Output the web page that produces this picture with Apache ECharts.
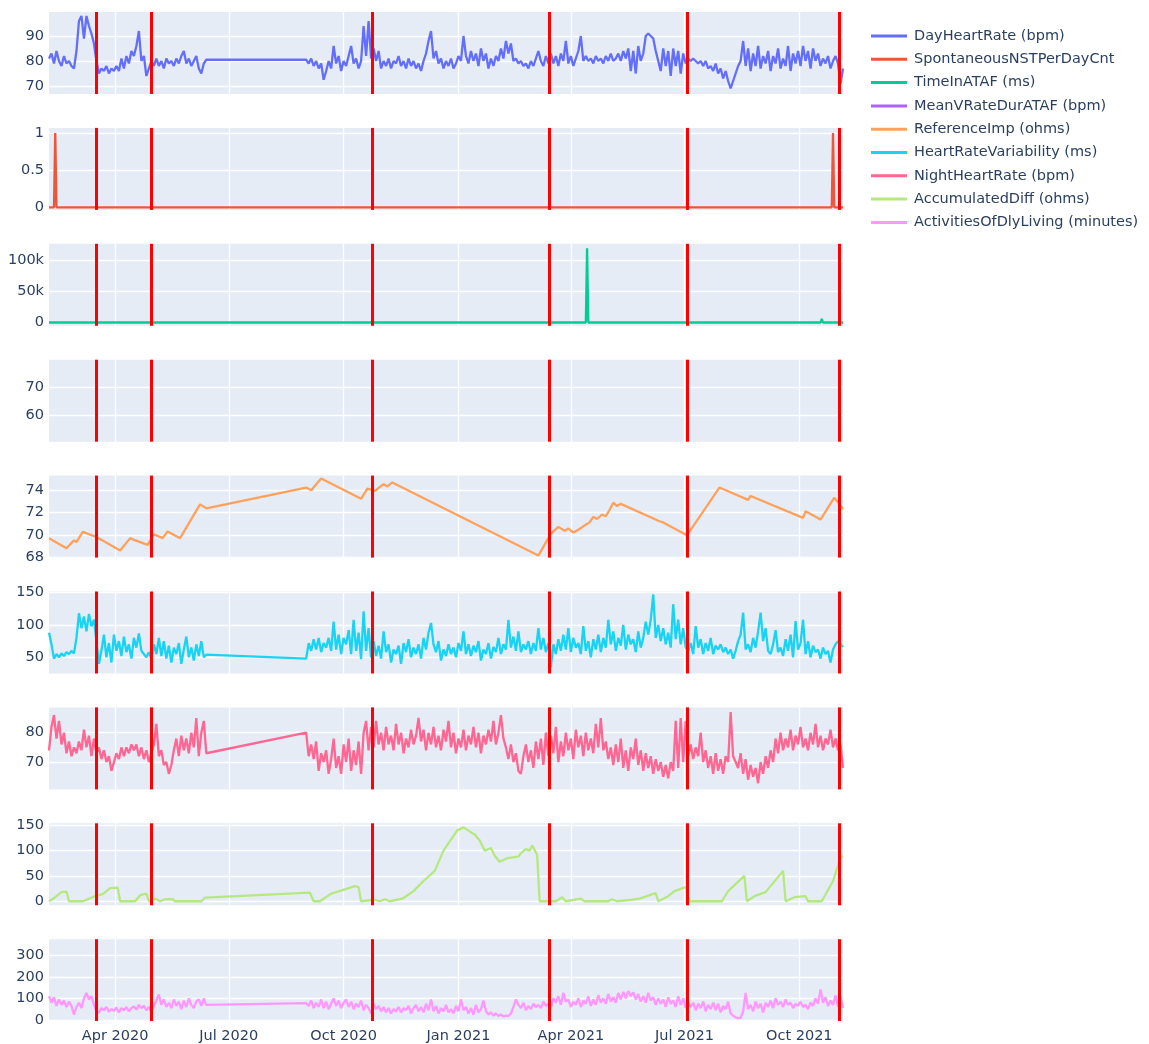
<!DOCTYPE html>
<html><head><meta charset="utf-8">
<script src="https://cdn.jsdelivr.net/npm/echarts@6/dist/echarts.min.js"></script>
<style>html,body{margin:0;padding:0;background:#fff}#c{width:1149px;height:1044px}</style>
</head><body><div id="c"></div>
<script>
const seriesNames = ['DayHeartRate (bpm)','SpontaneousNSTPerDayCnt','TimeInATAF (ms)','MeanVRateDurATAF (bpm)','ReferenceImp (ohms)','HeartRateVariability (ms)','NightHeartRate (bpm)','AccumulatedDiff (ohms)','ActivitiesOfDlyLiving (minutes)'];
const colors = ['#636EFA','#EF553B','#00CC96','#AB63FA','#FFA15A','#19D3F3','#FF6692','#B6E880','#FF97FF'];

const dailyDates = [
'2020-02-08','2020-02-10','2020-02-12','2020-02-14','2020-02-16','2020-02-18','2020-02-20','2020-02-22','2020-02-24','2020-02-26','2020-02-28',
'2020-03-01','2020-03-03','2020-03-05','2020-03-07','2020-03-09','2020-03-11','2020-03-13','2020-03-15','2020-03-17','2020-03-19','2020-03-21','2020-03-23','2020-03-25','2020-03-27','2020-03-29','2020-03-31',
'2020-04-02','2020-04-04','2020-04-06','2020-04-08','2020-04-10','2020-04-12','2020-04-14','2020-04-16','2020-04-18','2020-04-20','2020-04-22','2020-04-24','2020-04-26','2020-04-28','2020-04-30',
'2020-05-02','2020-05-04','2020-05-06','2020-05-08','2020-05-10','2020-05-12','2020-05-14','2020-05-16','2020-05-18','2020-05-20','2020-05-22','2020-05-24','2020-05-26','2020-05-28','2020-05-30',
'2020-06-01','2020-06-03','2020-06-05','2020-06-07','2020-06-09','2020-06-11','2020-06-13',
'2020-09-01','2020-09-03','2020-09-05','2020-09-07','2020-09-09','2020-09-11','2020-09-13','2020-09-15','2020-09-17','2020-09-19','2020-09-21','2020-09-23','2020-09-25','2020-09-27','2020-09-29',
'2020-10-01','2020-10-03','2020-10-05','2020-10-07','2020-10-09','2020-10-11','2020-10-13','2020-10-15','2020-10-17','2020-10-19','2020-10-21','2020-10-23','2020-10-25','2020-10-27','2020-10-29','2020-10-31',
'2020-11-02','2020-11-04','2020-11-06','2020-11-08','2020-11-10','2020-11-12','2020-11-14','2020-11-16','2020-11-18','2020-11-20','2020-11-22','2020-11-24','2020-11-26','2020-11-28','2020-11-30',
'2020-12-02','2020-12-04','2020-12-06','2020-12-08','2020-12-10','2020-12-12','2020-12-14','2020-12-16','2020-12-18','2020-12-20','2020-12-22','2020-12-24','2020-12-26','2020-12-28','2020-12-30',
'2021-01-01','2021-01-03','2021-01-05','2021-01-07','2021-01-09','2021-01-11','2021-01-13','2021-01-15','2021-01-17','2021-01-19','2021-01-21','2021-01-23','2021-01-25','2021-01-27','2021-01-29','2021-01-31',
'2021-02-02','2021-02-04','2021-02-06','2021-02-08','2021-02-10','2021-02-12','2021-02-14','2021-02-16','2021-02-18','2021-02-20','2021-02-22','2021-02-24','2021-02-26','2021-02-28',
'2021-03-02','2021-03-04','2021-03-06','2021-03-08','2021-03-10','2021-03-12','2021-03-14','2021-03-16','2021-03-18','2021-03-20','2021-03-22','2021-03-24','2021-03-26','2021-03-28','2021-03-30',
'2021-04-01','2021-04-03','2021-04-05','2021-04-07','2021-04-09','2021-04-11','2021-04-13','2021-04-15','2021-04-17','2021-04-19','2021-04-21','2021-04-23','2021-04-25','2021-04-27','2021-04-29',
'2021-05-01','2021-05-03','2021-05-05','2021-05-07','2021-05-09','2021-05-11','2021-05-13','2021-05-15','2021-05-17','2021-05-19','2021-05-21','2021-05-23','2021-05-25','2021-05-27','2021-05-29','2021-05-31',
'2021-06-02','2021-06-04','2021-06-06','2021-06-08','2021-06-10','2021-06-12','2021-06-14','2021-06-16','2021-06-18','2021-06-20','2021-06-22','2021-06-24','2021-06-26','2021-06-28','2021-06-30',
'2021-07-02','2021-07-04','2021-07-06','2021-07-08','2021-07-10','2021-07-12','2021-07-14','2021-07-16','2021-07-18','2021-07-20','2021-07-22','2021-07-24','2021-07-26','2021-07-28','2021-07-30',
'2021-08-01','2021-08-03','2021-08-05','2021-08-07','2021-08-09','2021-08-11','2021-08-13','2021-08-15','2021-08-17','2021-08-19','2021-08-21','2021-08-23','2021-08-25','2021-08-27','2021-08-29','2021-08-31',
'2021-09-02','2021-09-04','2021-09-06','2021-09-08','2021-09-10','2021-09-12','2021-09-14','2021-09-16','2021-09-18','2021-09-20','2021-09-22','2021-09-24','2021-09-26','2021-09-28','2021-09-30',
'2021-10-02','2021-10-04','2021-10-06','2021-10-08','2021-10-10','2021-10-12','2021-10-14','2021-10-16','2021-10-18','2021-10-20','2021-10-22','2021-10-24','2021-10-26','2021-10-28','2021-10-30',
'2021-11-01','2021-11-03','2021-11-05'];

const dayHeartRate = [81,83,79,84,80,78,82,79,80,78,77,84,96,98,89,98,94,91,87,80,75,77,76,78,75,77,76,78,76,81,77,82,79,84,82,86,92,80,82,74,77,80,78,81,78,80,77,81,79,80,78,81,79,82,84,79,81,78,80,82,77,75,79,80.5,
80.5,79,81,78,80,77,79,72.5,76,80,77,86,79,82,76,80,78,82,86,79,81,77,80,94,82,96,81,85,80,84,77,80,78,81,77,80,79,82,78,80,77,81,78,80,77,79,76,80,83,88,92,81,84,79,81,77,80,78,81,77,79,82,80,90,82,79,84,80,83,78,85,80,83,77,81,78,82,80,85,81,88,83,87,80,81,79,80,78,79,77,80,78,81,84,80,78,82,79,83,79,82,78,83,80,88,79,82,78,81,84,90,80,82,80,81,79,82,80,81,79,82,80,83,80,81,83,80,84,81,85,76,84,75,86,80,83,90,91,90,89,84,80,76,85,78,84,74,85,78,84,75,83,79,81,80,81,80,79,80,78,80,77,78,76,79,75,77,73,76,72,69,72,75,78,80,88,78,85,76,83,78,86,77,82,79,84,76,82,79,85,77,81,78,86,76,83,79,84,78,86,80,84,77,85,80,83,78,81,79,82,77,80,82,79,71,77];

const heartRateVariability = [88,70,48,55,50,56,52,58,55,60,56,80,118,95,113,90,117,98,108,75,40,60,85,50,72,42,85,60,75,52,82,58,70,48,80,65,87,60,55,50,58,48,70,55,80,52,75,48,68,42,65,55,72,40,62,82,50,65,45,70,52,75,50,54,
48,72,60,78,62,80,58,72,65,80,60,105,62,85,55,80,70,92,55,108,60,88,47,121,60,95,50,75,52,68,48,90,58,70,42,62,55,68,40,72,58,78,50,65,55,70,48,80,62,88,103,70,58,75,45,62,52,70,55,65,50,72,60,90,55,70,52,68,58,75,45,62,55,72,48,66,58,80,55,70,62,108,65,82,60,90,58,70,62,75,55,72,60,95,62,80,58,72,35,70,55,78,60,85,62,95,58,80,65,72,55,98,60,75,50,78,62,85,58,80,65,108,70,90,60,80,68,100,62,85,70,78,58,90,65,80,105,85,108,147,80,100,75,95,70,88,65,132,78,108,70,95,65,60,72,55,98,65,78,55,72,60,80,55,68,62,70,58,65,55,62,48,60,75,85,119,62,70,58,80,65,90,119,75,95,60,55,70,92,58,65,52,78,60,85,50,106,62,72,108,55,75,50,68,58,62,48,65,55,60,42,62,70,75,70,66];

const nightHeartRate = [74,82,86,78,84,76,80,73,77,72,75,73,77,74,81,75,79,72,78,73,75,71,74,70,72,67,70,73,71,75,72,75,73,76,74,76,72,75,71,74,70,73,76,83,72,74,69,70,66,69,74,78,72,79,74,78,73,80,75,85,72,80,84,73,
80,72,76,71,77,67,73,70,74,66,71,78,68,72,66,76,70,78,67,74,69,77,66,80,84,74,82,75,84,76,80,74,82,76,79,74,83,76,80,73,78,75,81,76,79,85,77,81,74,80,76,82,75,79,74,81,77,84,75,80,73,78,75,81,74,79,76,82,75,80,73,79,76,81,77,84,76,80,86,78,75,71,76,70,73,67,66,72,76,70,74,68,77,71,78,69,80,72,79,73,82,70,77,72,80,74,78,71,81,75,79,72,80,74,78,73,83,75,85,74,77,71,75,69,76,70,78,68,74,67,75,71,78,69,74,67,73,68,72,66,71,67,70,65,69,64.5,70,67,84,68,85,70,84,72,76,71,75,72,80,70,74,68,72,66,73,67,71,66,72,70,87,72,70,68,73,66,71,64,69,65,68,62.8,70,66,72,68,74,70,78,73,80,74,78,75,81,74,79,76,82,75,78,74,80,76,83,75,79,74,78,76,81,75,78,74,76,68];

const activitiesOfDlyLiving = [110,80,105,65,95,70,90,60,85,65,25,60,80,55,100,125,95,110,70,40,35,55,45,60,38,50,42,58,35,55,45,60,40,55,62,48,70,55,65,45,60,35,65,90,118,70,95,60,80,55,95,65,85,50,90,60,100,70,55,85,95,65,100,70,
78,65,90,55,80,60,95,55,85,50,75,100,65,90,55,80,95,60,85,50,75,60,90,45,70,55,30,75,50,65,40,60,35,55,30,50,40,60,35,55,45,65,30,55,70,40,60,35,75,45,95,40,65,30,55,40,70,35,50,30,65,40,95,45,60,30,55,25,70,35,50,90,40,25,35,20,30,18,25,16,20,18,30,60,95,70,55,80,45,65,50,75,60,70,55,85,65,75,55,100,80,110,70,126,85,95,60,85,70,100,60,90,75,110,65,95,70,115,80,100,75,120,85,105,80,125,95,130,100,134,110,128,95,120,85,110,80,126,90,105,70,100,75,95,60,105,75,90,60,110,70,100,55,85,60,80,45,75,55,85,40,70,50,80,45,75,35,65,50,85,30,20,12,8,10,40,126,50,70,40,85,55,75,35,80,60,90,55,100,70,85,60,95,70,80,55,75,65,85,60,70,50,80,65,100,75,142,80,105,65,90,70,115,60,110,55];

const nstDates = ['2020-02-08','2020-02-12','2020-02-13','2020-02-14','2021-10-27','2021-10-28','2021-10-29','2021-11-05'];
const nstValues = [0,0,1,0,0,1,0,0];

const atafDates = ['2020-02-08','2021-04-13','2021-04-14','2021-04-15','2021-10-18','2021-10-19','2021-10-20','2021-11-05'];
const atafValues = [0,0,119000,0,0,6000,0,0];

const meanVRateDates = [];
const meanVRateValues = [];

const refImpDates = ['2020-02-08','2020-02-22','2020-02-28','2020-03-01','2020-03-06','2020-03-17','2020-04-05','2020-04-13','2020-04-16','2020-04-27','2020-05-02','2020-05-09','2020-05-13','2020-05-23','2020-06-08','2020-06-13','2020-09-01','2020-09-05','2020-09-13','2020-10-15','2020-10-20','2020-10-26','2020-11-02','2020-11-05','2020-11-09','2021-03-06','2021-03-16','2021-03-22','2021-03-27','2021-03-30','2021-04-03','2021-04-07','2021-04-11','2021-04-16','2021-04-19','2021-04-22','2021-04-26','2021-04-29','2021-05-02','2021-05-05','2021-05-08','2021-05-11','2021-06-11','2021-06-14','2021-07-03','2021-07-29','2021-08-21','2021-08-23','2021-10-04','2021-10-06','2021-10-18','2021-10-29','2021-11-05'];
const refImpValues = [69.7,68.8,69.5,69.35,70.25,69.8,68.6,69.7,69.55,69.1,70.05,69.7,70.3,69.7,72.7,72.35,74.2,73.95,75.0,73.2,74.1,73.9,74.5,74.3,74.65,68.15,70.1,70.7,70.35,70.55,70.2,70.45,70.75,71.1,71.6,71.4,71.8,71.65,72.2,72.85,72.55,72.75,71.2,71.1,69.95,74.2,73.1,73.45,71.5,72.1,71.35,73.3,72.3];

const accDiffDates = ['2020-02-08','2020-02-13','2020-02-18','2020-02-22','2020-02-24','2020-03-06','2020-03-10','2020-03-17','2020-03-22','2020-03-28','2020-04-03','2020-04-05','2020-04-17','2020-04-21','2020-04-26','2020-04-28','2020-05-03','2020-05-07','2020-05-11','2020-05-17','2020-05-19','2020-06-09','2020-06-12','2020-09-04','2020-09-07','2020-09-12','2020-09-21','2020-10-04','2020-10-10','2020-10-13','2020-10-15','2020-10-26','2020-10-30','2020-11-03','2020-11-07','2020-11-17','2020-11-26','2020-12-04','2020-12-13','2020-12-20','2020-12-24','2020-12-31','2021-01-05','2021-01-10','2021-01-14','2021-01-18','2021-01-22','2021-01-27','2021-01-30','2021-02-03','2021-02-09','2021-02-18','2021-02-20','2021-02-24','2021-02-27','2021-03-01','2021-03-05','2021-03-07','2021-03-20','2021-03-25','2021-03-28','2021-04-09','2021-04-12','2021-05-01','2021-05-04','2021-05-08','2021-05-20','2021-05-26','2021-06-03','2021-06-08','2021-06-10','2021-06-18','2021-06-23','2021-07-02','2021-07-05','2021-07-31','2021-08-05','2021-08-18','2021-08-20','2021-08-26','2021-09-04','2021-09-18','2021-09-20','2021-09-27','2021-10-06','2021-10-08','2021-10-19','2021-10-28','2021-11-03','2021-11-05'];
const accDiffValues = [0,8,18,19,0,0,4,11,14,26,27,0,0,12,15,0,5,0,4,4,0,0,7,17,0,0,15,25,30,28,0,3,0,4,0,5,20,40,60,100,115,140,146,138,132,120,100,105,90,78,85,88,95,103,100,110,92,0,0,8,0,5,0,0,4,0,3,5,12,16,0,10,20,28,0,0,20,50,0,10,18,60,0,8,10,0,0,40,85,90];

const eventDates = ['2020-03-17','2020-04-30','2020-10-24','2021-03-15','2021-07-03','2021-11-02'];
const xTickDates = ['2020-04-01','2020-07-01','2020-10-01','2021-01-01','2021-04-01','2021-07-01','2021-10-01'];
const xTickLabels = ['Apr 2020','Jul 2020','Oct 2020','Jan 2021','Apr 2021','Jul 2021','Oct 2021'];
const yTickValues = [[70,80,90],[0,0.5,1],[0,50000,100000],[60,70],[68,70,72,74],[50,100,150],[70,80],[0,50,100,150],[0,100,200,300]];
const yTickLabels = [['70','80','90'],['0','0.5','1'],['0','50k','100k'],['60','70'],['68','70','72','74'],['50','100','150'],['70','80'],['0','50','100','150'],['0','100','200','300']];
const yRanges = [[66.8,99.6],[-0.035,1.068],[-5300,126000],[50.7,79.6],[67.97,75.26],[25,151.6],[60.7,88.6],[-8,154],[-5,375]];

const ts = s => { const p = s.split('-').map(Number); return Date.UTC(p[0], p[1]-1, p[2]); };
const pairs = (ds, vs) => ds.map((d, i) => [ts(d), vs[i]]);

const seriesData = [
  pairs(dailyDates, dayHeartRate),
  pairs(nstDates, nstValues),
  pairs(atafDates, atafValues),
  pairs(meanVRateDates, meanVRateValues),
  pairs(refImpDates, refImpValues),
  pairs(dailyDates, heartRateVariability),
  pairs(dailyDates, nightHeartRate),
  pairs(accDiffDates, accDiffValues),
  pairs(dailyDates, activitiesOfDlyLiving)
];

const xTicks = xTickDates.map(ts);
const FONT = 'DejaVu Sans';
const TXT = '#2a3f5f';
const grids = [], xAxes = [], yAxes = [], series = [];
const near = (a, b) => Math.abs(a - b) <= 1e-6 * Math.max(1, Math.abs(b));
for (let i = 0; i < 9; i++) {
  grids.push({left: 49, width: 794, top: 12 + 115.9 * i, height: 82, show: true, backgroundColor: '#E5ECF6', borderWidth: 0});
  xAxes.push({
    type: 'value', gridIndex: i, min: ts('2020-02-08'), max: ts('2021-11-05'), scale: true,
    axisLine: {show: false}, axisTick: {show: false, customValues: xTicks},
    axisLabel: {show: i === 8, customValues: xTicks, color: TXT, fontSize: 14.5, fontFamily: FONT, margin: 8,
      formatter: v => { for (let k = 0; k < xTicks.length; k++) if (near(v, xTicks[k])) return xTickLabels[k]; return ''; }},
    splitLine: {show: true, lineStyle: {color: '#ffffff', width: 1.3}}
  });
  const yt = yTickValues[i], yl = yTickLabels[i];
  yAxes.push({
    type: 'value', gridIndex: i, min: yRanges[i][0], max: yRanges[i][1],
    axisLine: {show: false}, axisTick: {show: false, customValues: yt},
    axisLabel: {customValues: yt, color: TXT, fontSize: 14.5, fontFamily: FONT, margin: 5,
      formatter: v => { for (let k = 0; k < yt.length; k++) if (near(v, yt[k])) return yl[k]; return ''; }},
    splitLine: {show: true, lineStyle: {color: '#ffffff', width: 1.3}}
  });
  series.push({
    type: 'line', name: seriesNames[i], xAxisIndex: i, yAxisIndex: i, data: seriesData[i],
    showSymbol: false, symbol: 'none', clip: true,
    lineStyle: {width: 2.3, color: colors[i]}, itemStyle: {color: colors[i]},
    markLine: {silent: true, symbol: ['none','none'], label: {show: false},
      lineStyle: {color: '#ff0000', width: 3, type: 'solid'},
      data: eventDates.map(d => ({xAxis: ts(d)}))}
  });
}

const chart = echarts.init(document.getElementById('c'), null, {renderer: 'canvas'});
chart.setOption({
  animation: false,
  backgroundColor: '#ffffff',
  grid: grids, xAxis: xAxes, yAxis: yAxes, series: series,
  legend: {orient: 'vertical', left: 866, top: 23, itemWidth: 36, itemHeight: 3, itemGap: 7.3, icon: 'rect', selectedMode: false,
    data: seriesNames, textStyle: {color: TXT, fontSize: 14.5, fontFamily: FONT, lineHeight: 16, padding: [0,0,0,2]}}
});
</script>
</body></html>
